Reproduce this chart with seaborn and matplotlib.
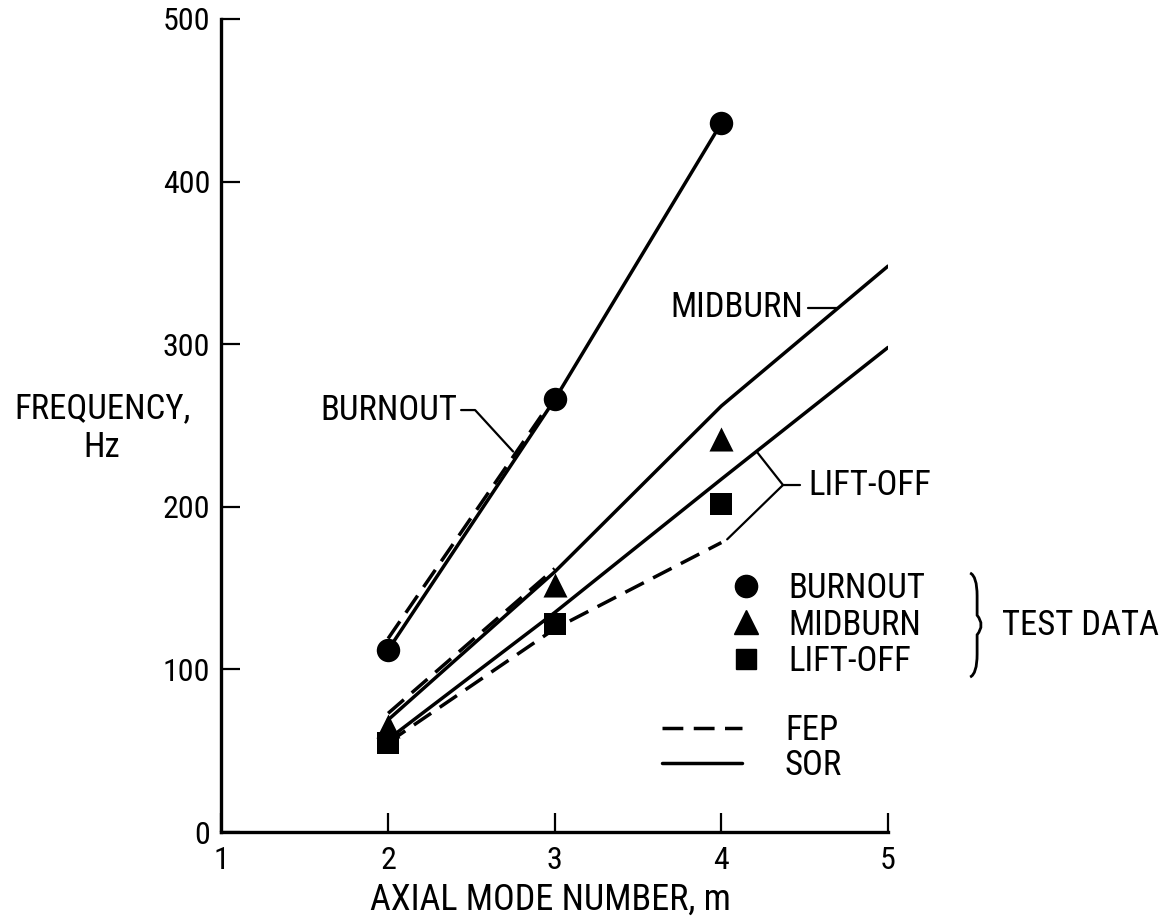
import numpy as np
import pandas as pd
import matplotlib
matplotlib.use('Agg')
import matplotlib.pyplot as plt
from matplotlib.lines import Line2D
from matplotlib.path import Path
from matplotlib.patches import PathPatch
import seaborn as sns

# axial mode numbers
modes = [2, 3, 4]
modes_ext = [2, 3, 4, 5]
modes_short = [2, 3]

# test data (Hz)
burnout_test = [112, 266, 436]
midburn_test = [65, 152, 242]
liftoff_test = [55, 128, 202]

# SOR analysis (solid lines)
burnout_sor = [112, 266, 436]
midburn_sor = [69, 160, 262, 348]
liftoff_sor = [57, 135, 217, 298]

# FEP analysis (dashed lines)
burnout_fep = [119, 268]
midburn_fep = [73, 162]
liftoff_fep = [55, 125, 178]

xticks = [1, 2, 3, 4, 5]
yticks = [0, 100, 200, 300, 400, 500]

sns.set_style('ticks')
plt.rcParams['font.family'] = ['Roboto Condensed', 'Liberation Sans Narrow',
                               'DejaVu Sans Condensed', 'DejaVu Sans']
plt.rcParams['font.stretch'] = 'condensed'
plt.rcParams['text.color'] = 'k'
plt.rcParams['axes.labelcolor'] = 'k'

fig = plt.figure(figsize=(11.67, 9.21), dpi=100)
ax = fig.add_axes([0.1898, 0.0966, 0.5711, 0.8828])

lw = 2.5
dash = (0, (6, 3))

# solid SOR lines
sns.lineplot(x=modes, y=burnout_sor, ax=ax, color='k', lw=lw)
sns.lineplot(x=modes_ext, y=midburn_sor, ax=ax, color='k', lw=lw)
sns.lineplot(x=modes_ext, y=liftoff_sor, ax=ax, color='k', lw=lw)

# dashed FEP lines
sns.lineplot(x=modes_short, y=burnout_fep, ax=ax, color='k', lw=lw, linestyle=dash)
sns.lineplot(x=modes_short, y=midburn_fep, ax=ax, color='k', lw=lw, linestyle=dash)
sns.lineplot(x=modes, y=liftoff_fep, ax=ax, color='k', lw=lw, linestyle=dash)

# test data points
sns.scatterplot(x=modes, y=burnout_test, ax=ax, marker='o', s=285, color='k', linewidth=0, zorder=5)
sns.scatterplot(x=modes, y=midburn_test, ax=ax, marker='^', s=300, color='k', linewidth=0, zorder=5)
sns.scatterplot(x=modes, y=liftoff_test, ax=ax, marker='s', s=250, color='k', linewidth=0, zorder=5)

ax.set_xlim(1, 5)
ax.set_ylim(0, 500)
ax.set_xticks(xticks)
ax.set_yticks(yticks)
sns.despine(ax=ax)
for sp in ['left', 'bottom']:
    ax.spines[sp].set_linewidth(2.4)
    ax.spines[sp].set_color('k')
ax.tick_params(direction='in', length=14, width=1.6, labelsize=23, colors='k')
ax.tick_params(axis='x', pad=10)
ax.tick_params(axis='y', pad=8)

ax.set_xlabel('AXIAL MODE NUMBER, m', fontsize=26, va='center')
ax.xaxis.set_label_coords(0.493, -0.0836)
ax.set_ylabel('FREQUENCY,\nHz', fontsize=25, rotation=0, ha='center', va='center',
              multialignment='center')
ax.yaxis.set_label_coords(-0.179, 0.497)

# curve labels with leader lines
tfs = 25
ax.text(2.414, 259.5, 'BURNOUT', fontsize=tfs, ha='right', va='center')
ax.plot([2.438, 2.522, 2.75], [259.5, 259.5, 234], color='k', lw=1.6)
ax.text(4.49, 322.5, 'MIDBURN', fontsize=tfs, ha='right', va='center')
ax.plot([4.52, 4.694], [322, 322], color='k', lw=1.6)
ax.text(4.52, 213.4, 'LIFT-OFF', fontsize=tfs, ha='left', va='center')
ax.plot([4.214, 4.37, 4.472], [233.7, 213.4, 213.4], color='k', lw=1.6, clip_on=False)
ax.plot([4.035, 4.37], [180, 213.4], color='k', lw=1.6, clip_on=False)

# legend: test data markers
lfs = 25
h1 = [Line2D([], [], marker='o', color='k', ls='none', markersize=16),
      Line2D([], [], marker='^', color='k', ls='none', markersize=17),
      Line2D([], [], marker='s', color='k', ls='none', markersize=15)]
leg1 = ax.legend(h1, ['BURNOUT', 'MIDBURN', 'LIFT-OFF'], loc='center left',
                 bbox_to_anchor=(0.7614, 0.2546), frameon=False, fontsize=lfs,
                 handlelength=1.0, handletextpad=0.7, labelspacing=0.1,
                 borderpad=0, borderaxespad=0)
ax.add_artist(leg1)

h2 = [Line2D([], [], color='k', lw=lw, linestyle=dash),
      Line2D([], [], color='k', lw=lw)]
ax.legend(h2, ['FEP', 'SOR'], loc='center left', bbox_to_anchor=(0.6609, 0.1033),
          frameon=False, fontsize=lfs, handlelength=2.3, handletextpad=1.24,
          labelspacing=0.05, borderpad=0, borderaxespad=0)

# brace for the test data group
x0, xm, x1 = 5.493, 5.535, 5.583
yb, yc, yt = 95.3, 127.3, 159.3
verts = [(x0, yt), (xm, yt - 2), (xm, yt - 14),
         (xm, yc + 6), (x1, yc),
         (xm, yc - 6), (xm, yb + 14),
         (xm, yb + 2), (x0, yb)]
codes = [Path.MOVETO, Path.CURVE3, Path.CURVE3, Path.LINETO, Path.CURVE3,
         Path.CURVE3, Path.LINETO, Path.CURVE3, Path.CURVE3]
ax.add_patch(PathPatch(Path(verts, codes), fc='none', ec='k', lw=2.0, clip_on=False))
ax.text(5.684, 127.3, 'TEST DATA', fontsize=lfs, ha='left', va='center')

fig.savefig('out.png', dpi=100)
